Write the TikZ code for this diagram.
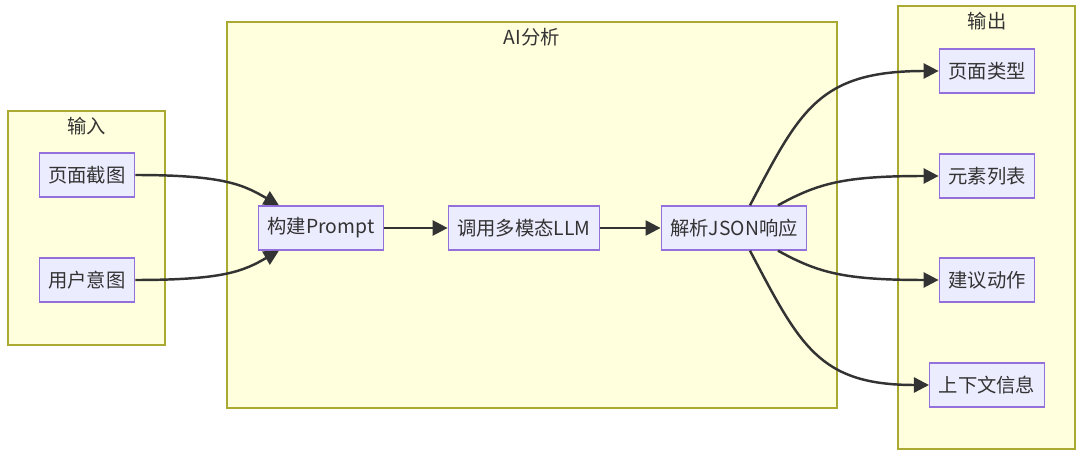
\documentclass[tikz,border=0pt]{standalone}
\usepackage{fontspec}
\setmainfont{Noto Sans CJK SC}
\usepackage{tikz}
\definecolor{groupfill}{HTML}{FFFFDE}
\definecolor{groupline}{HTML}{AAAA33}
\definecolor{boxfill}{HTML}{ECECFF}
\definecolor{boxline}{HTML}{9370DB}
\definecolor{linkgray}{HTML}{333333}
\usetikzlibrary{arrows.meta}

\begin{document}
\begin{tikzpicture}[x=0.02cm, y=-0.02cm,
        group/.style={fill=groupfill, draw=groupline, line width=0.7pt},
        box/.style={fill=boxfill, draw=boxline, line width=0.8pt, minimum height=0.88cm, inner xsep=0.18cm, font=\fontsize{11}{13}\selectfont, text=linkgray},
        title/.style={font=\fontsize{11}{13}\selectfont, text=linkgray},
        link/.style={draw=linkgray, line width=1.4pt, -{Triangle[length=0.3cm, width=0.3cm]}}]
        
        \useasboundingbox (0,0) rectangle (1080,456);
        
        \draw[group] (8,111) rectangle (165,345);
        \draw[group] (227,22) rectangle (837,408);
        \draw[group] (898,6) rectangle (1075,449);
        \node[title] (tin) at (87,126) {输入};
        \node[title] (tai) at (532,37) {AI分析};
        \node[title] (tout) at (987,21) {输出};
        
        \node[box] (shot) at (87,175) {页面截图};
        \node[box] (intent) at (87,280) {用户意图};
        \node[box] (prompt) at (321,228) {构建Prompt};
        \node[box] (llm) at (524,228) {调用多模态LLM};
        \node[box] (json) at (734,228) {解析JSON响应};
        \node[box] (ptype) at (987,71) {页面类型};
        \node[box] (elist) at (987,176) {元素列表};
        \node[box] (act) at (987,280) {建议动作};
        \node[box] (ctx) at (987,385) {上下文信息};
        
        \draw[link] (shot.east) .. controls +(90,0) and +(-35,-20) .. ([xshift=0.42cm]prompt.north west);
        \draw[link] (intent.east) .. controls +(90,0) and +(-35,20) .. ([xshift=0.42cm]prompt.south west);
        \draw[link] (prompt) -- (llm);
        \draw[link] (llm) -- (json);
        \draw[link] ([xshift=0.32cm]json.north) .. controls +(50,-95) and +(-120,0) .. (ptype.west);
        \draw[link] ([xshift=0.88cm]json.north) .. controls +(40,-22) and +(-95,0) .. (elist.west);
        \draw[link] ([xshift=0.88cm]json.south) .. controls +(40,22) and +(-95,0) .. (act.west);
        \draw[link] ([xshift=0.32cm]json.south) .. controls +(50,95) and +(-110,0) .. (ctx.west);
        
    \end{tikzpicture}
\end{document}
